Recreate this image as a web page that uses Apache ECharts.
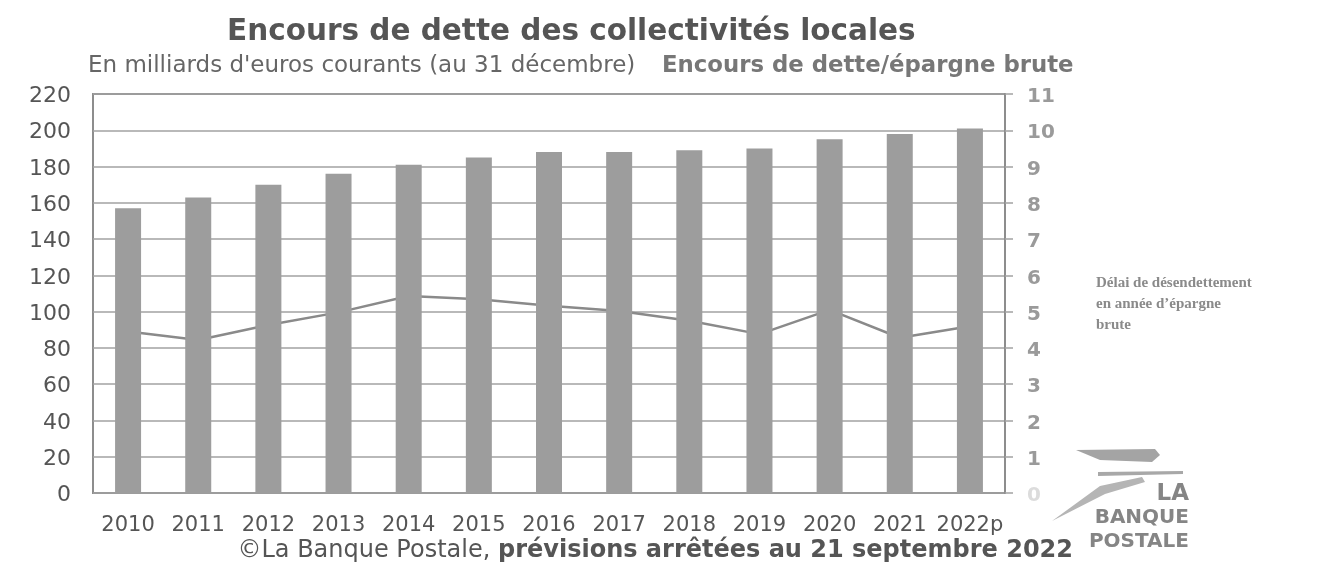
<!DOCTYPE html>
<html>
<head>
<meta charset="utf-8">
<script src="https://cdn.jsdelivr.net/npm/echarts@6/dist/echarts.min.js"></script>
<style>
  html, body { margin: 0; padding: 0; background: #fff; }
  #chart { width: 1317px; height: 566px; }
</style>
</head>
<body>
<div id="chart"></div>
<script>
// Encours de dette des collectivités locales, 2010-2022p
const years = ['2010', '2011', '2012', '2013', '2014', '2015', '2016', '2017', '2018', '2019', '2020', '2021', '2022p'];
// Encours de dette, en milliards d'euros courants (axe de gauche)
const encours = [157, 163, 170, 176, 181, 185, 188, 188, 189, 190, 195, 198, 201];
// Délai de désendettement, en années d'épargne brute (axe de droite)
const delai = [4.45, 4.22, 4.63, 4.98, 5.43, 5.34, 5.16, 5.02, 4.75, 4.38, 5.05, 4.28, 4.6];
const leftTicks = { min: 0, max: 220, step: 20 };
const rightTicks = { min: 0, max: 11, step: 1 };

const FONT = '"DejaVu Sans", "Open Sans", sans-serif';
const chart = echarts.init(document.getElementById('chart'), null, { renderer: 'canvas' });

chart.setOption({
  backgroundColor: '#ffffff',
  animation: false,
  grid: { left: 93, right: 312, top: 94, bottom: 73, show: true, borderColor: '#8d8d8d', borderWidth: 2, backgroundColor: 'transparent' },
  xAxis: {
    type: 'category',
    data: years,
    axisLine: { show: false },
    axisTick: { show: false },
    axisLabel: { color: '#555', fontSize: 21, fontFamily: FONT, margin: 22, interval: 0 }
  },
  yAxis: [
    {
      type: 'value',
      min: leftTicks.min, max: leftTicks.max, interval: leftTicks.step,
      axisLine: { show: false },
      axisTick: { show: false },
      axisLabel: {
        fontSize: 22, fontFamily: FONT, margin: 22, padding: [5, 0, 0, 0],
        formatter: v => '{n|' + v + '}',
        rich: { n: { color: '#555', fontSize: 22, fontFamily: FONT } }
      },
      splitLine: { lineStyle: { color: '#a2a2a2', width: 1.5 } }
    },
    {
      type: 'value',
      position: 'right',
      min: rightTicks.min, max: rightTicks.max, interval: rightTicks.step,
      axisLine: { show: true, lineStyle: { color: '#8d8d8d', width: 2 } },
      axisTick: { show: true, length: 8, lineStyle: { color: '#a2a2a2', width: 1.5 } },
      axisLabel: {
        fontSize: 20, fontWeight: 'bold', fontFamily: FONT, margin: 22, padding: [6, 0, 0, 0],
        formatter: v => v === 0 ? '{z|0}' : '{n|' + v + '}',
        rich: {
          n: { color: '#9a9a9a', fontSize: 20, fontWeight: 'bold', fontFamily: FONT },
          z: { color: '#dcdcdc', fontSize: 20, fontWeight: 'bold', fontFamily: FONT }
        }
      },
      splitLine: { show: false }
    }
  ],
  series: [
    {
      name: 'Délai de désendettement',
      type: 'line',
      yAxisIndex: 1,
      data: delai,
      symbol: 'none',
      z: 1,
      lineStyle: { color: '#8a8a8a', width: 2.5 }
    },
    {
      name: 'Encours de dette',
      type: 'bar',
      yAxisIndex: 0,
      data: encours,
      barWidth: 26,
      z: 3,
      itemStyle: { color: '#9d9d9d' }
    }
  ],
  graphic: [
    { type: 'text', left: 227, top: 17, style: { text: 'Encours de dette des collectivités locales', font: 'bold 29.5px ' + FONT, fill: '#555' }, z: 10 },
    { type: 'text', left: 88, top: 55, style: { text: "En milliards d'euros courants (au 31 décembre)", font: '23px ' + FONT, fill: '#666' }, z: 10 },
    { type: 'text', left: 662, top: 55, style: { text: 'Encours de dette/épargne brute', font: 'bold 22.8px ' + FONT, fill: '#777' }, z: 10 },
    { type: 'text', left: 1096, top: 273, style: { text: 'Délai de désendettement\nen année d\u2019épargne\nbrute', font: 'bold 15px "Liberation Serif", "DejaVu Serif", serif', fill: '#8a8a8a', lineHeight: 21 }, z: 10 },
    {
      type: 'text', right: 1317 - 1073, top: 539,
      style: {
        text: '{a|©La Banque Postale, }{b|prévisions arrêtées au 21 septembre 2022}',
        rich: {
          a: { font: '24px ' + FONT, fill: '#555' },
          b: { font: 'bold 24px ' + FONT, fill: '#555' }
        }
      }, z: 10
    },
    // Logo La Banque Postale
    { type: 'polygon', shape: { points: [[1076, 450], [1155, 449], [1160, 455], [1152, 462], [1100, 460]] }, style: { fill: '#a4a4a4' }, z: 10 },
    { type: 'polygon', shape: { points: [[1098, 472], [1183, 471], [1183, 474], [1098, 476]] }, style: { fill: '#a8a8a8' }, z: 10 },
    { type: 'polygon', shape: { points: [[1052, 521], [1100, 486], [1142, 477], [1145, 482], [1105, 494]] }, style: { fill: '#b5b5b5' }, z: 10 },
    { type: 'text', right: 1317 - 1189, top: 483, style: { text: 'LA', font: 'bold 23px ' + FONT, fill: '#858585' }, z: 10 },
    { type: 'text', right: 1317 - 1189, top: 508, style: { text: 'BANQUE', font: 'bold 20px ' + FONT, fill: '#858585' }, z: 10 },
    { type: 'text', right: 1317 - 1189, top: 532, style: { text: 'POSTALE', font: 'bold 20px ' + FONT, fill: '#858585' }, z: 10 }
  ]
});
</script>
</body>
</html>
